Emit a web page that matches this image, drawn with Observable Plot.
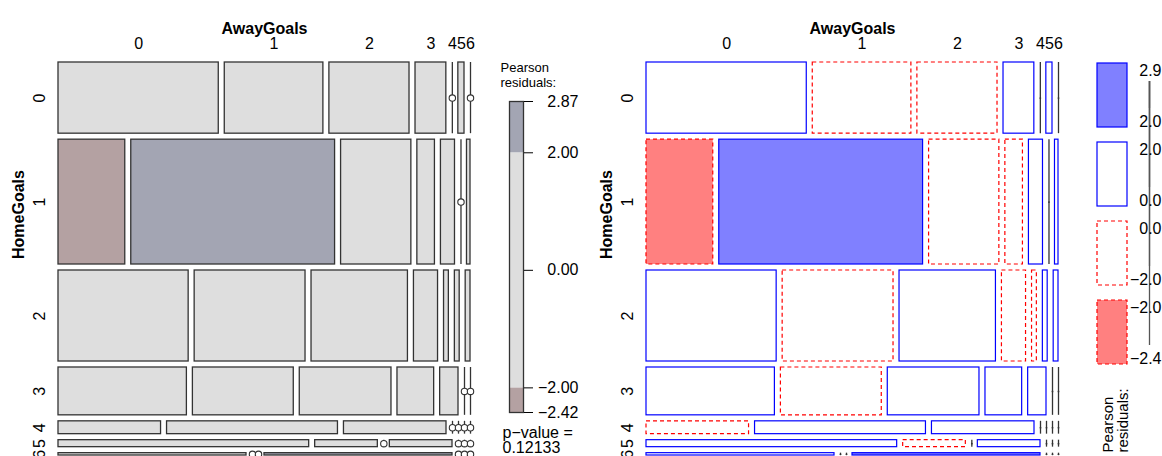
<!DOCTYPE html>
<html><head><meta charset="utf-8">
<script src="https://cdn.jsdelivr.net/npm/d3@7"></script>
<script src="https://cdn.jsdelivr.net/npm/@observablehq/plot@0.6"></script>
<style>
body{margin:0;background:#fff;}
#chart{position:relative;width:1162px;height:456px;overflow:hidden;font-family:"Liberation Sans",Arial,sans-serif;}
#chart > svg{position:absolute;top:0;left:0;background:transparent !important;}
</style></head><body><div id="chart"></div>
<script>
// ---- data ----
const homeGoals = ["0","1","2","3","4","5","6"];
const awayGoals = ["0","1","2","3","4","5","6"];
const home0 = [26,16,13,5,0,1,0];
const home1 = [19,58,20,5,4,0,1];
const home2 = [27,23,20,5,1,1,1];
const home3 = [14,11,10,4,2,0,0];
const home4 = [3,5,3,0,0,0,0];
const home5 = [4,1,0,1,0,0,0];
const home6 = [1,0,0,1,0,0,0];
const pValueText = "0.12133";
const counts = [home0,home1,home2,home3,home4,home5,home6];

// ---- mosaic layout (proportions) ----
const N = d3.sum(counts.flat());
const rowTot = counts.map(r => d3.sum(r));
const colTot = awayGoals.map((_, j) => d3.sum(counts, r => r[j]));
const gx = 6/376, gy = 6/357;
const cells = [];
const rows = [];
let yc = 0;
counts.forEach((r, i) => {
  const h = rowTot[i] / N;
  rows.push({i, y1: yc, y2: yc + h});
  let xc = 0;
  r.forEach((n, j) => {
    const w = n / rowTot[i];
    const e = rowTot[i] * colTot[j] / N;
    cells.push({i, j, n, x1: xc, x2: xc + w, y1: yc, y2: yc + h, res: (n - e) / Math.sqrt(e)});
    xc += w + gx;
  });
  yc += h + gy;
});
const xDomain = [0, 1 + (awayGoals.length - 1) * gx];
const yDomain = [0, 1 + (homeGoals.length - 1) * gy];
const nonzero = cells.filter(d => d.n > 0);
const zeros = cells.filter(d => d.n === 0);
const topRow = cells.filter(d => d.i === 0);
const rMax = d3.max(cells, d => d.res), rMin = d3.min(cells, d => d.res);

const W = 1162, H = 456;
const font = "Liberation Sans, Arial, sans-serif";
const chart = document.getElementById("chart");
const baseStyle = {fontFamily: font, fontSize: "16px", background: "transparent", overflow: "visible"};
function place(svg) { chart.appendChild(svg); }

function labelMarks() {
  return [
    Plot.text(topRow, {x: d => (d.x1 + d.x2) / 2, y: () => 0, dy: -19, text: d => awayGoals[d.j], fontSize: 16}),
    Plot.text(rows, {x: () => 0, y: d => (d.y1 + d.y2) / 2, dx: -19, rotate: -90, text: d => homeGoals[d.i], fontSize: 16}),
    Plot.text(["AwayGoals"], {frameAnchor: "top", dy: -40, fontWeight: "bold", fontSize: 16}),
    Plot.text(["HomeGoals"], {frameAnchor: "left", dx: -40, rotate: -90, fontWeight: "bold", fontSize: 16})
  ];
}
function mosaicBase(left) {
  return {
    width: W, height: H, marginLeft: left, marginRight: W - left - 412, marginTop: 62, marginBottom: 1,
    x: {domain: xDomain, axis: null}, y: {domain: yDomain, reverse: true, axis: null},
    style: baseStyle
  };
}

// ---- left: shading_max ----
const maxPos = "#A3A5B3", maxNeg = "#B4A1A2", maxMid = "#DEDEDE";
const shadeMax = r => r > 2 ? maxPos : r < -2 ? maxNeg : maxMid;
place(Plot.plot({
  ...mosaicBase(58),
  marks: [
    Plot.rect(nonzero, {x1: "x1", x2: "x2", y1: "y1", y2: "y2", fill: d => shadeMax(d.res), stroke: "#333", strokeWidth: 1.3}),
    Plot.ruleX(zeros, {x: "x1", y1: "y1", y2: "y2", stroke: "#333", strokeWidth: 1.3}),
    Plot.dot(zeros, {x: "x1", y: d => (d.y1 + d.y2) / 2, r: 3.2, fill: "white", stroke: "#333", strokeWidth: 1.1}),
    ...labelMarks()
  ]
}));

const breaks = [rMax, 2, 0, -2, rMin];
const bands = [
  {lo: rMin, hi: -2, fill: maxNeg},
  {lo: -2, hi: 2, fill: maxMid},
  {lo: 2, hi: rMax, fill: maxPos}
];
place(Plot.plot({
  width: W, height: H, marginLeft: 509, marginRight: W - 523, marginTop: 101, marginBottom: H - 412,
  x: {domain: [0, 1], axis: null}, y: {domain: [rMin, rMax]},
  style: baseStyle,
  marks: [
    Plot.rect(bands, {x1: () => 0, x2: () => 1, y1: "lo", y2: "hi", fill: "fill"}),
    Plot.frame({stroke: "#333", strokeWidth: 1.3}),
    Plot.axisY({anchor: "right", ticks: breaks, tickSize: 9, tickPadding: 46, textAnchor: "end", tickFormat: d3.format(".2f"), label: null, fontSize: 16}),
    Plot.text(["Pearson\nresiduals:"], {frameAnchor: "top-left", dx: -9, dy: -26.5, textAnchor: "start", lineAnchor: "middle", lineHeight: 15/13, fontSize: 13}),
    Plot.text(["p\u2212value =\n" + pValueText], {frameAnchor: "bottom-left", dx: -7, dy: 28.5, textAnchor: "start", lineAnchor: "middle", lineHeight: 0.95, fontSize: 16})
  ]
}));

// ---- right: shading_Friendly ----
const blue = "#0000FF", red = "#FF0000", blueFill = "#8080FF", redFill = "#FF8080";
const pos = nonzero.filter(d => d.res >= 0), neg = nonzero.filter(d => d.res < 0);
place(Plot.plot({
  ...mosaicBase(646),
  marks: [
    Plot.rect(pos, {x1: "x1", x2: "x2", y1: "y1", y2: "y2", fill: d => d.res > 2 ? blueFill : "white", stroke: blue, strokeWidth: 1.2}),
    Plot.rect(neg, {x1: "x1", x2: "x2", y1: "y1", y2: "y2", fill: d => d.res < -2 ? redFill : "white", stroke: red, strokeWidth: 1.2, strokeDasharray: "4,3"}),
    Plot.ruleX(zeros, {x: "x1", y1: "y1", y2: "y2", stroke: "#333", strokeWidth: 1.3}),
    Plot.dot(zeros, {x: "x1", y: d => (d.y1 + d.y2) / 2, r: 0.9, fill: "#333"}),
    ...labelMarks()
  ]
}));

// right legend: x domain spans box left (0) to label right edge (1)
const fmt1 = d3.format(".1f");
const boxRight = 30 / 64, ruleAt = 52 / 64;
const bins = [
  {k: 0, top: fmt1(rMax), bot: fmt1(2), fill: blueFill, sign: 1},
  {k: 1, top: fmt1(2), bot: fmt1(0), fill: "white", sign: 1},
  {k: 2, top: fmt1(0), bot: fmt1(-2), fill: "white", sign: -1},
  {k: 3, top: fmt1(-2), bot: fmt1(rMin), fill: redFill, sign: -1}
];
place(Plot.plot({
  width: W, height: H, marginLeft: 1097, marginRight: 1, marginTop: 62, marginBottom: H - 364,
  x: {domain: [0, 1], axis: null},
  y: {type: "band", domain: bins.map(d => d.k), paddingInner: 0.193, paddingOuter: 0, axis: null},
  style: baseStyle,
  marks: [
    Plot.barX(bins.filter(d => d.sign > 0), {x1: () => 0, x2: () => boxRight, y: "k", fill: "fill", stroke: blue, strokeWidth: 1.2}),
    Plot.barX(bins.filter(d => d.sign < 0), {x1: () => 0, x2: () => boxRight, y: "k", fill: "fill", stroke: red, strokeWidth: 1.2, strokeDasharray: "4,3"}),
    Plot.ruleX(bins, {x: () => ruleAt, y: "k", insetTop: 18, insetBottom: 19, stroke: "#555", strokeWidth: 1.3}),
    Plot.text(bins, {x: () => 1, y: "k", dy: -25, text: "top", textAnchor: "end", fontSize: 16}),
    Plot.text(bins, {x: () => 1, y: "k", dy: 26, text: "bot", textAnchor: "end", fontSize: 16}),
    Plot.text(["Pearson\nresiduals:"], {frameAnchor: "bottom-left", dx: 18.5, dy: 88, rotate: -90, textAnchor: "start", lineAnchor: "middle", lineHeight: 1.0, fontSize: 15})
  ]
}));
</script></body></html>
